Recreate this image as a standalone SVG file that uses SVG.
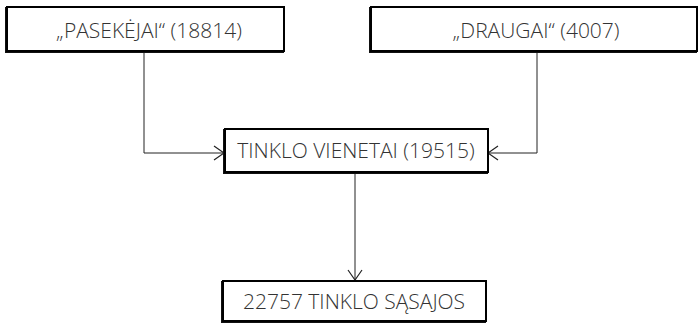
<svg xmlns="http://www.w3.org/2000/svg" width="699" height="326" viewBox="0 0 699 326">
<style>
.box{fill:#fff;stroke:#000;stroke-width:2}
.sh{fill:none;stroke:#111;stroke-width:2}
.t{font-family:"Open Sans",sans-serif;font-weight:300;font-size:21px;fill:#333;text-anchor:middle}
.c{fill:none;stroke:#222;stroke-width:1}
</style>
<defs>
<marker id="a" viewBox="0 0 12 16" refX="11" refY="8" markerWidth="12" markerHeight="16" markerUnits="userSpaceOnUse" orient="auto">
<path d="M1,1 L11,8 L1,15" fill="none" stroke="#222" stroke-width="1.2"/>
</marker>
</defs>
<g id="connectors">
<path class="c" d="M144,52 V153 H224" marker-end="url(#a)"/>
<path class="c" d="M537,52 V153 H488" marker-end="url(#a)"/>
<path class="c" d="M355,173 V280" marker-end="url(#a)"/>
</g>
<g id="n1">
<rect class="sh" x="6" y="8" width="277" height="44"/>
<rect class="box" x="7" y="7" width="277" height="44"/>
<text class="t" x="149" y="38">„PASEKĖJAI“ (18814)</text>
</g>
<g id="n2">
<rect class="sh" x="370" y="8" width="326" height="44"/>
<rect class="box" x="371" y="7" width="326" height="44"/>
<text class="t" x="536" y="38">„DRAUGAI“ (4007)</text>
</g>
<g id="n3">
<rect class="sh" x="224" y="130" width="263" height="43"/>
<rect class="box" x="225" y="129" width="263" height="43"/>
<text class="t" x="356" y="158">TINKLO VIENETAI (19515)</text>
</g>
<g id="n4">
<rect class="sh" x="222" y="282" width="263" height="40"/>
<rect class="box" x="223" y="281" width="263" height="40"/>
<text class="t" x="354" y="309">22757 TINKLO SĄSAJOS</text>
</g>
</svg>
